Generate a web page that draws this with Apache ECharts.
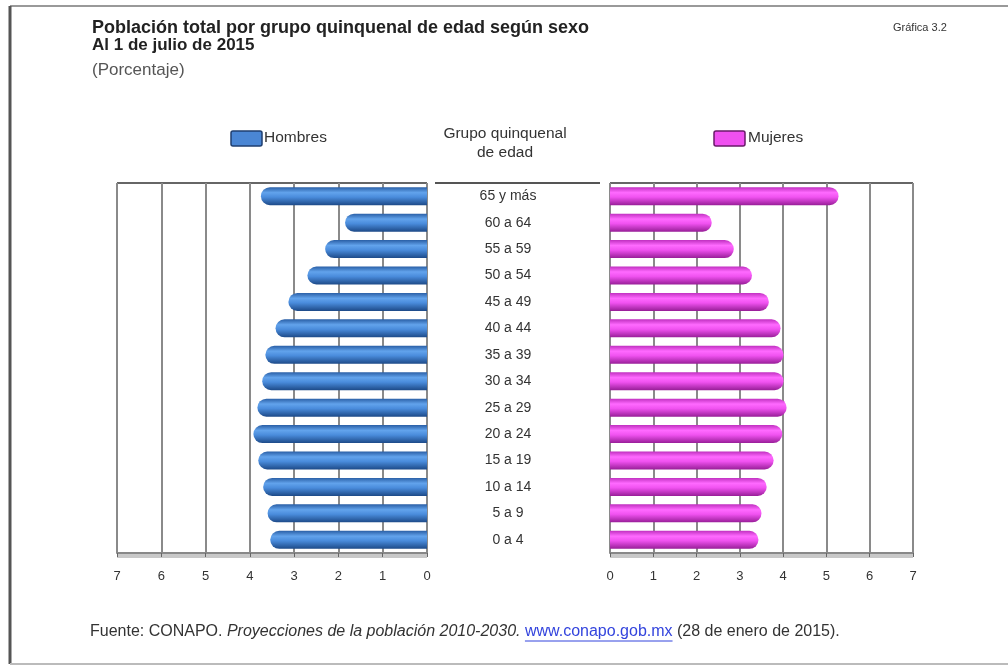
<!DOCTYPE html>
<html>
<head>
<meta charset="utf-8">
<script src="https://cdn.jsdelivr.net/npm/echarts@6/dist/echarts.min.js"></script>
<style>
html,body{margin:0;padding:0;background:#fff;}
#c{width:1008px;height:666px;}
</style>
</head>
<body>
<div id="c"></div>
<script>
const categories = ['65 y más','60 a 64','55 a 59','50 a 54','45 a 49','40 a 44','35 a 39','30 a 34','25 a 29','20 a 24','15 a 19','10 a 14','5 a 9','0 a 4'];
const hombres = [3.75, 1.85, 2.3, 2.7, 3.13, 3.42, 3.65, 3.72, 3.83, 3.92, 3.81, 3.7, 3.6, 3.54];
const mujeres = [5.28, 2.35, 2.86, 3.28, 3.67, 3.94, 4.01, 4.01, 4.08, 3.98, 3.78, 3.62, 3.5, 3.43];
const xTicks = [0,1,2,3,4,5,6,7];

const chart = echarts.init(document.getElementById('c'));
const font = 'Liberation Sans, Arial, sans-serif';

// text measurement for footer layout
const mctx = document.createElement('canvas').getContext('2d');
function tw(t, f){ mctx.font = f; return mctx.measureText(t).width; }

const blueGrad = new echarts.graphic.LinearGradient(0,0,0,1,[
  {offset:0, color:'#2a5fa6'},{offset:0.3, color:'#62a3ec'},{offset:0.55, color:'#4a8cdc'},{offset:1, color:'#1d4a88'}]);
const pinkGrad = new echarts.graphic.LinearGradient(0,0,0,1,[
  {offset:0, color:'#c030c0'},{offset:0.3, color:'#ff6aff'},{offset:0.55, color:'#f052f0'},{offset:1, color:'#981e98'}]);

const gridTop = 183, gridH = 370;

const fFont = '16px ' + font;
const fFontI = 'italic 16px ' + font;
const p1 = 'Fuente: CONAPO. ';
const p2 = 'Proyecciones de la población 2010-2030.';
const p3 = 'www.conapo.gob.mx';
const p4 = '(28 de enero de 2015).';
const fx = 90;
const w1 = tw(p1, fFont), w2 = tw(p2, fFontI), ws = tw(' ', fFont), w3 = tw(p3, fFont);
const x2 = fx + w1, x3 = x2 + w2 + ws, x4 = x3 + w3 + ws;
const fy = 624;

const axisCommon = {
  axisLine:{show:true, lineStyle:{color:'#888', width:2}},
  axisTick:{show:true, length:4, lineStyle:{color:'#666'}},
  axisLabel:{color:'#333', fontSize:13, fontFamily:font, margin:17},
  splitLine:{show:true, lineStyle:{color:'#8a8a8a', width:2}}
};

const option = {
  backgroundColor:'#fff',
  animation:false,
  grid:[
    {left:117, top:gridTop, width:310, height:gridH},
    {left:610, top:gridTop, width:303, height:gridH}
  ],
  xAxis:[
    Object.assign({gridIndex:0, type:'value', min:0, max:7, interval:1, inverse:true}, axisCommon),
    Object.assign({gridIndex:1, type:'value', min:0, max:7, interval:1}, axisCommon)
  ],
  yAxis:[
    {gridIndex:0, type:'category', data:categories, inverse:true,
     axisLine:{show:false}, axisTick:{show:false}, axisLabel:{show:false}},
    {gridIndex:1, type:'category', data:categories, inverse:true,
     axisLine:{show:false}, axisTick:{show:false},
     axisLabel:{show:true, align:'center', margin:102, color:'#333', fontSize:14, fontFamily:font}}
  ],
  series:[
    {type:'bar', name:'Hombres', xAxisIndex:0, yAxisIndex:0, data:hombres, barWidth:18,
     itemStyle:{color:blueGrad, borderRadius:[9,0,0,9]}},
    {type:'bar', name:'Mujeres', xAxisIndex:1, yAxisIndex:1, data:mujeres, barWidth:18,
     itemStyle:{color:pinkGrad, borderRadius:[0,9,9,0]}}
  ],
  graphic:[
    // frame
    {type:'line', shape:{x1:10, y1:6, x2:1008, y2:6}, style:{stroke:'#999', lineWidth:2}},
    {type:'line', shape:{x1:10, y1:6, x2:10, y2:664}, style:{stroke:'#555', lineWidth:3}},
    {type:'line', shape:{x1:10, y1:664, x2:1008, y2:664}, style:{stroke:'#bbb', lineWidth:2}},
    // top border lines of plots
    {type:'line', shape:{x1:117, y1:183, x2:427, y2:183}, style:{stroke:'#666', lineWidth:2}},
    {type:'line', shape:{x1:435, y1:183, x2:600, y2:183}, style:{stroke:'#555', lineWidth:2}},
    {type:'line', shape:{x1:610, y1:183, x2:913, y2:183}, style:{stroke:'#666', lineWidth:2}},
    // floor bands
    {type:'rect', shape:{x:117, y:553, width:310, height:5}, style:{fill:'#c8c8c8'}},
    {type:'rect', shape:{x:610, y:553, width:303, height:5}, style:{fill:'#c8c8c8'}},
    // titles
    {type:'text', left:92, top:19, style:{text:'Población total por grupo quinquenal de edad según sexo', font:'bold 18px '+font, fill:'#222', letterSpacing:0.6}},
    {type:'text', left:92, top:37, style:{text:'Al 1 de julio de 2015', font:'bold 17px '+font, fill:'#222'}},
    {type:'text', left:92, top:62, style:{text:'(Porcentaje)', font:'17px '+font, fill:'#555'}},
    {type:'text', left:893, top:22, style:{text:'Gráfica 3.2', font:'11px '+font, fill:'#333'}},
    // legend
    {type:'rect', shape:{x:231, y:131, width:31, height:15, r:2}, style:{fill:'#4a86d4', stroke:'#1f3f70', lineWidth:1.5}},
    {type:'text', left:264, top:130, style:{text:'Hombres', font:'15.5px '+font, fill:'#333'}},
    {type:'rect', shape:{x:714, y:131, width:31, height:15, r:2}, style:{fill:'#f050f0', stroke:'#6a1a6a', lineWidth:1.5}},
    {type:'text', left:748, top:130, style:{text:'Mujeres', font:'15.5px '+font, fill:'#333'}},
    {type:'text', x:505, y:124, style:{text:'Grupo quinquenal\nde edad', font:'15.5px '+font, fill:'#333', align:'center', lineHeight:19}},
    // footer
    {type:'text', x:fx, y:fy, style:{text:p1, font:fFont, fill:'#333'}},
    {type:'text', x:x2, y:fy, style:{text:p2, font:fFontI, fill:'#333'}},
    {type:'text', x:x3, y:fy, style:{text:p3, font:fFont, fill:'#3344dd'}},
    {type:'line', shape:{x1:x3, y1:fy+17, x2:x3+w3, y2:fy+17}, style:{stroke:'#3344dd', lineWidth:1}},
    {type:'text', x:x4, y:fy, style:{text:p4, font:fFont, fill:'#333'}}
  ]
};
chart.setOption(option);
</script>
</body>
</html>
